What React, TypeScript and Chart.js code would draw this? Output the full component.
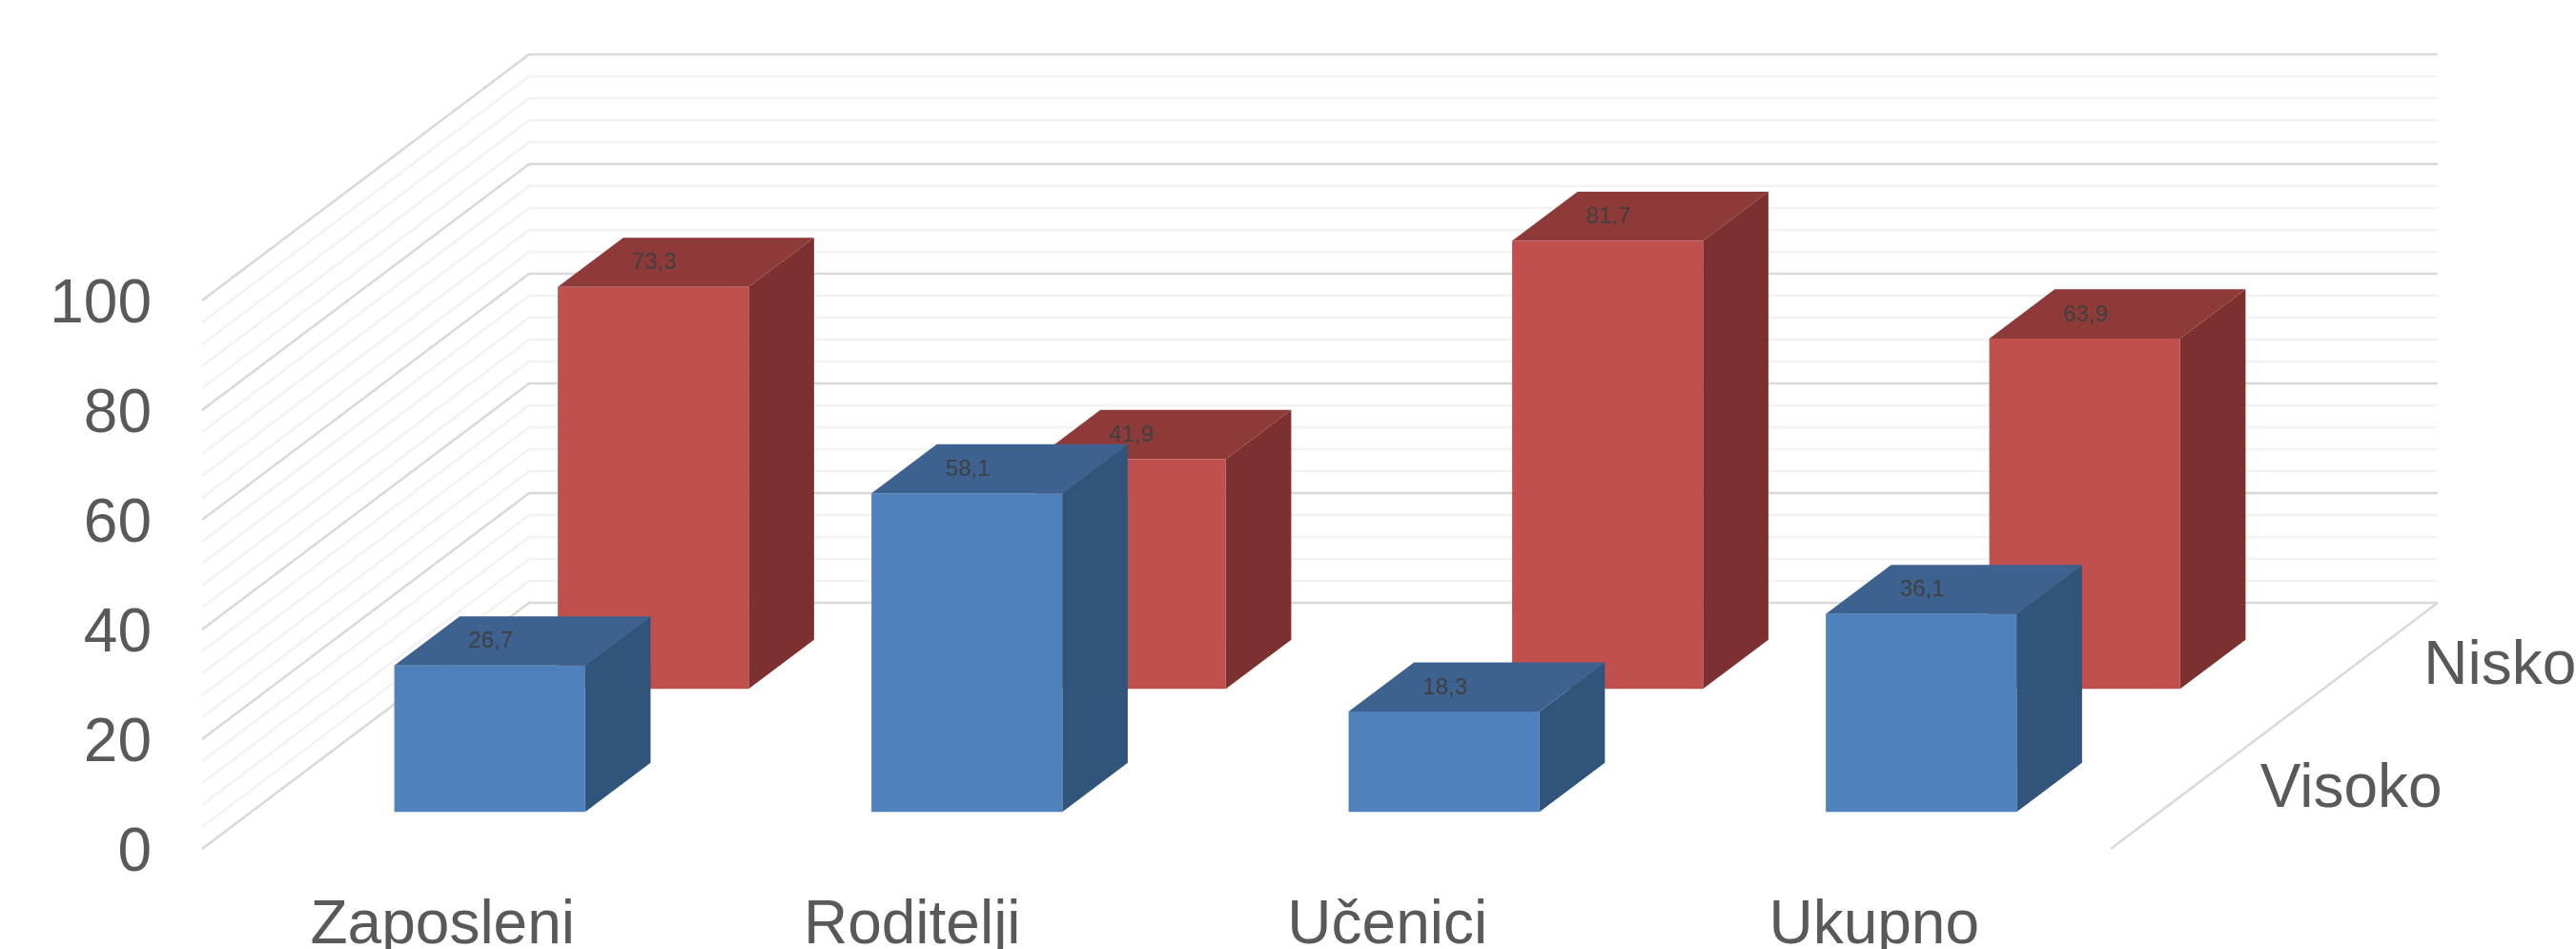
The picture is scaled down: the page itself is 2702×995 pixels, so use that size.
import React, { useEffect, useRef } from "react";
import { Chart, registerables } from "chart.js";

Chart.register(...registerables);

const categories = ["Zaposleni", "Roditelji", "Učenici", "Ukupno"];
const seriesNames = ["Visoko", "Nisko"];
const visokoValues = [26.7, 58.1, 18.3, 36.1];
const niskoValues = [73.3, 41.9, 81.7, 63.9];
const majorStep = 20;
const minorStep = 4;
const yMax = 100;

const FONT = "'Liberation Sans', Arial, sans-serif";
const LABEL_SIZE = 64;
const WALL_DX = 343;
const WALL_DY = -258;
const ROW_DEPTH = 0.5;
const BAR_DEPTH = 0.2;
const ROW_GAP = 0.15;
const categoryLabelNudge = [2, -6, -8, 2];
const faces = [
  { front: "#4f81bd", side: "#31547a", top: "#3d628f" },
  { front: "#c0504d", side: "#7c3130", top: "#8e3a39" },
];

const comma = (v: number) => v.toFixed(1).replace(".", ",");

const depthPlugin = {
  id: "depth3d",
  beforeDatasetsDraw(chart: any) {
    const { ctx } = chart;
    const x = chart.scales.x;
    const y = chart.scales.y;
    ctx.save();
    ctx.lineWidth = 2.5;
    const ticks = [...y.ticks].sort((a: any, b: any) => (a.value % majorStep === 0 ? 1 : 0) - (b.value % majorStep === 0 ? 1 : 0));
    for (const t of ticks) {
      const py = y.getPixelForValue(t.value);
      ctx.strokeStyle = t.value % majorStep === 0 ? "#d9d9d9" : "#f2f2f2";
      ctx.beginPath();
      ctx.moveTo(x.left, py);
      ctx.lineTo(x.left + WALL_DX, py + WALL_DY);
      ctx.lineTo(x.right + WALL_DX, py + WALL_DY);
      ctx.stroke();
    }
    const base = y.getPixelForValue(0);
    ctx.strokeStyle = "#d9d9d9";
    ctx.beginPath();
    ctx.moveTo(x.right, base);
    ctx.lineTo(x.right + WALL_DX, base + WALL_DY);
    ctx.stroke();
    ctx.restore();
  },
  beforeDatasetDraw(chart: any, args: any) {
    const { ctx } = chart;
    const i = args.index;
    const depth = i * ROW_DEPTH + ROW_GAP;
    const dx = WALL_DX * BAR_DEPTH;
    const dy = WALL_DY * BAR_DEPTH;
    ctx.save();
    ctx.translate(WALL_DX * depth, WALL_DY * depth);
    for (const bar of args.meta.data) {
      const { x, y, base, width } = bar.getProps(["x", "y", "base", "width"], true);
      const l = x - width / 2;
      const r = x + width / 2;
      ctx.fillStyle = faces[i].side;
      ctx.beginPath();
      ctx.moveTo(r, y);
      ctx.lineTo(r + dx, y + dy);
      ctx.lineTo(r + dx, base + dy);
      ctx.lineTo(r, base);
      ctx.closePath();
      ctx.fill();
      ctx.fillStyle = faces[i].top;
      ctx.beginPath();
      ctx.moveTo(l, y);
      ctx.lineTo(l + dx, y + dy);
      ctx.lineTo(r + dx, y + dy);
      ctx.lineTo(r, y);
      ctx.closePath();
      ctx.fill();
    }
  },
  afterDatasetDraw(chart: any, args: any) {
    const { ctx } = chart;
    const values = chart.data.datasets[args.index].data;
    ctx.fillStyle = "#404040";
    ctx.font = `24px ${FONT}`;
    ctx.textAlign = "center";
    ctx.textBaseline = "middle";
    args.meta.data.forEach((bar: any, j: number) => {
      const { x, y } = bar.getProps(["x", "y"], true);
      ctx.fillText(comma(values[j]), x + 1, y - 25);
    });
    ctx.restore();
  },
  afterDraw(chart: any) {
    const { ctx } = chart;
    const x = chart.scales.x;
    const y = chart.scales.y;
    ctx.save();
    ctx.fillStyle = "#595959";
    ctx.font = `${LABEL_SIZE}px ${FONT}`;
    ctx.textAlign = "left";
    ctx.textBaseline = "alphabetic";
    seriesNames.forEach((name, i) => {
      const d = (i + 0.5) * ROW_DEPTH;
      ctx.fillText(name, x.right + WALL_DX * d + 71, y.getPixelForValue(0) + WALL_DY * d + 20);
    });
    ctx.restore();
  },
};

export default function App() {
  const ref = useRef<HTMLCanvasElement | null>(null);
  useEffect(() => {
    const chart = new Chart(ref.current as HTMLCanvasElement, {
      type: "bar",
      data: {
        labels: categories,
        datasets: [
          { label: seriesNames[0], data: visokoValues, backgroundColor: faces[0].front, clip: false } as any,
          { label: seriesNames[1], data: niskoValues, backgroundColor: faces[1].front, clip: false } as any,
        ],
      },
      options: {
        responsive: false,
        animation: false,
        devicePixelRatio: 1,
        layout: { padding: { left: 0, right: 488, top: 315, bottom: 0 } },
        plugins: { legend: { display: false }, tooltip: { enabled: false } },
        datasets: { bar: { grouped: false, categoryPercentage: 1, barPercentage: 0.4, borderWidth: 0 } },
        scales: {
          x: {
            grid: { display: false },
            border: { display: false },
            ticks: {
              autoSkip: false,
              maxRotation: 0,
              minRotation: 0,
              padding: 35,
              color: "#595959",
              font: { family: FONT, size: LABEL_SIZE },
            },
            afterFit(s: any) {
              s.height = 105;
              s.paddingLeft = 0;
              s.paddingRight = 0;
            },
            afterUpdate(s: any) {
              const compute = s._computeLabelItems;
              s._computeLabelItems = function (area: any) {
                const items = compute.call(this, area);
                items.forEach((it: any, i: number) => {
                  it.options.translation[0] += categoryLabelNudge[i];
                });
                return items;
              };
            },
          },
          y: {
            min: 0,
            max: yMax,
            grid: { display: false, drawTicks: false },
            border: { display: false },
            ticks: {
              stepSize: minorStep,
              autoSkip: false,
              padding: 53,
              labelOffset: 5,
              color: "#595959",
              font: { family: FONT, size: LABEL_SIZE },
              callback: (v: any) => (Number(v) % majorStep === 0 ? String(v) : ""),
            },
            afterFit(s: any) {
              s.width = 212;
              s.paddingTop = 0;
              s.paddingBottom = 0;
            },
          },
        },
      } as any,
      plugins: [depthPlugin as any],
    });
    return () => chart.destroy();
  }, []);
  return (
    <div style={{ position: "fixed", left: 0, top: 0, width: 2702, height: 995, background: "#fff" }}>
      <canvas ref={ref} width={2702} height={995} style={{ display: "block", width: 2702, height: 995 }} />
    </div>
  );
}
